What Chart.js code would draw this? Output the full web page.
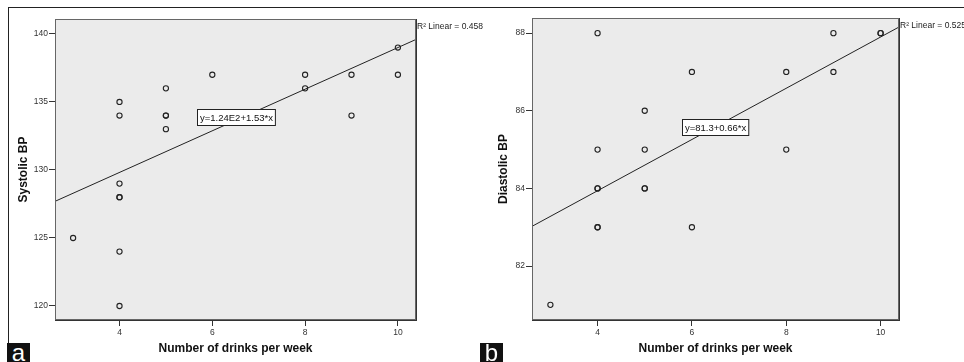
<!DOCTYPE html>
<html><head><meta charset="utf-8">
<script src="https://cdn.jsdelivr.net/npm/chart.js@4.4.1/dist/chart.umd.min.js"></script>
<style>
html,body{margin:0;padding:0;background:#fff;width:964px;height:362px;overflow:hidden;position:relative;font-family:"Liberation Sans",Arial,sans-serif}
canvas{position:absolute;top:0}
#frame{position:absolute;left:8px;top:7px;width:960px;height:336px;border-left:1px solid #222;border-top:1px solid #222}
.tag{position:absolute;top:343px;width:23px;height:19px;background:#111;color:#fff;font-size:24px;line-height:19px;text-align:center;overflow:hidden}
</style></head>
<body>
<div id="frame"></div>
<canvas id="ca" width="490" height="362" style="left:0;width:490px;height:362px"></canvas>
<canvas id="cb" width="484" height="362" style="left:480px;width:484px;height:362px"></canvas>
<div class="tag" style="left:7px">a</div>
<div class="tag" style="left:480px">b</div>
<script>
// ---- data ----
const xTicks = [4, 6, 8, 10];
const sysTicks = [120, 125, 130, 135, 140];
const diaTicks = [82, 84, 86, 88];
const drinksA = [3, 4, 4, 4, 4, 4, 4, 4, 5, 5, 5, 5, 6, 8, 8, 9, 9, 10, 10];
const systolic = [125, 135, 134, 129, 128, 128, 124, 120, 136, 134, 134, 133, 137, 137, 136, 137, 134, 139, 137];
const drinksB = [3, 4, 4, 4, 4, 4, 4, 5, 5, 5, 5, 6, 6, 8, 8, 9, 9, 10, 10];
const diastolic = [81, 88, 85, 84, 84, 83, 83, 86, 85, 84, 84, 87, 83, 87, 85, 88, 87, 88, 88];
const sysFit = [123.7, 1.53];   // intercept, slope
const diaFit = [81.3, 0.66];
const sysEquation = 'y=1.24E2+1.53*x';
const diaEquation = 'y=81.3+0.66*x';
const sysR2 = 'R\u00B2 Linear = 0.458';
const diaR2 = 'R\u00B2 Linear = 0.525';
const xTitle = 'Number of drinks per week';
const sysTitle = 'Systolic BP';
const diaTitle = 'Diastolic BP';

const FONT = '"Liberation Sans", Arial, sans-serif';

function makeChart(id, xs, ys, fit, eq, r2, yTitle, yTicksArr, yMin, yMax, pad, yWidth, eqDy) {
  const xMin = 2.61, xMax = 10.39;
  const pts = xs.map((x, i) => ({x: x, y: ys[i]}));
  const fitPts = [xMin, xMax].map(x => ({x: x, y: fit[0] + fit[1] * x}));
  const decor = {
    id: 'decor',
    beforeDatasetsDraw(chart) {
      const a = chart.chartArea, c = chart.ctx;
      c.save();
      c.fillStyle = '#ebebeb';
      c.fillRect(a.left, a.top, a.right - a.left, a.bottom - a.top);
      c.restore();
    },
    afterDatasetsDraw(chart) {
      const a = chart.chartArea, c = chart.ctx;
      const sx = chart.scales.x, sy = chart.scales.y;
      c.save();
      // plot frame
      c.strokeStyle = '#666';
      c.lineWidth = 1;
      c.strokeRect(a.left + 0.5, a.top + 0.5, a.right - a.left - 1, a.bottom - a.top - 1);
      c.strokeStyle = '#333';
      c.beginPath();
      c.moveTo(a.left, a.bottom + 0.5); c.lineTo(a.right + 1, a.bottom + 0.5);
      c.moveTo(a.right + 0.5, a.top); c.lineTo(a.right + 0.5, a.bottom + 1);
      c.stroke();
      // equation box at line midpoint
      const mx = (sx.min + sx.max) / 2;
      const px = sx.getPixelForValue(mx);
      const py = sy.getPixelForValue(fit[0] + fit[1] * mx) + eqDy;
      c.font = '9.5px ' + FONT;
      const w = c.measureText(eq).width + 5, h = 16;
      const bx = Math.round(px - w / 2) + 0.5, by = Math.round(py - h / 2) + 0.5;
      c.fillStyle = '#fff';
      c.fillRect(bx, by, w, h);
      c.strokeStyle = '#222';
      c.strokeRect(bx, by, w, h);
      c.fillStyle = '#111';
      c.textAlign = 'center';
      c.textBaseline = 'middle';
      c.fillText(eq, bx + w / 2, by + h / 2 + 0.5);
      // R2 label
      c.font = '8.5px ' + FONT;
      c.textAlign = 'left';
      c.fillStyle = '#222';
      c.fillText(r2, a.right + 1, a.top + 8);
      c.restore();
    }
  };
  return new Chart(document.getElementById(id), {
    type: 'scatter',
    data: {
      datasets: [
        {data: pts, pointStyle: 'circle', pointRadius: 2.6, borderWidth: 1.1,
         borderColor: '#222', backgroundColor: 'rgba(0,0,0,0)', order: 1},
        {data: fitPts, showLine: true, pointRadius: 0, borderColor: '#222',
         borderWidth: 1, fill: false, order: 2}
      ]
    },
    options: {
      responsive: false, animation: false, events: [], devicePixelRatio: 1,
      layout: {padding: {top: pad.top, right: pad.right, left: 0, bottom: 0}},
      plugins: {legend: {display: false}, tooltip: {enabled: false}},
      scales: {
        x: {
          type: 'linear', position: 'bottom', min: xMin, max: xMax,
          afterBuildTicks: s => { s.ticks = xTicks.map(v => ({value: v})); },
          afterFit: s => { s.height = 362 - pad.bottomArea; },
          grid: {drawOnChartArea: false, drawTicks: true, tickLength: 6, color: '#333', lineWidth: 1},
          border: {display: false},
          ticks: {font: {family: FONT, size: 8.5}, color: '#333', padding: 2, maxRotation: 0},
          title: {display: true, text: xTitle, font: {family: FONT, size: 12, weight: 'bold'},
                  color: '#111', padding: {top: 0, bottom: 6}}
        },
        y: {
          type: 'linear', min: yMin, max: yMax,
          afterBuildTicks: s => { s.ticks = yTicksArr.map(v => ({value: v})); },
          afterFit: s => { s.width = yWidth; },
          grid: {drawOnChartArea: false, drawTicks: true, tickLength: 6, color: '#333', lineWidth: 1},
          border: {display: false},
          ticks: {font: {family: FONT, size: 8.5}, color: '#333', padding: 1},
          title: {display: true, text: yTitle, font: {family: FONT, size: 12, weight: 'bold'},
                  color: '#111', padding: {top: 16, bottom: 0}}
        }
      }
    },
    plugins: [decor]
  });
}

makeChart('ca', drinksA, systolic, sysFit, sysEquation, sysR2, sysTitle, sysTicks,
  118.97, 141.1, {top: 19, right: 74, bottomArea: 320}, 55, -3);
makeChart('cb', drinksB, diastolic, diaFit, diaEquation, diaR2, diaTitle, diaTicks,
  80.61, 88.39, {top: 18, right: 65, bottomArea: 320}, 52, 0);
</script>
</body></html>
